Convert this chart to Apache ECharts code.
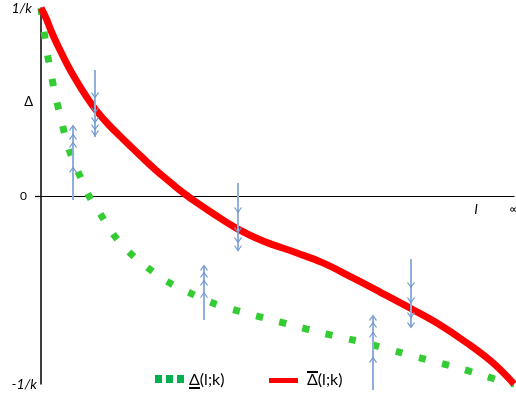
<!DOCTYPE html>
<html>
<head>
<meta charset="utf-8">
<script src="https://cdn.jsdelivr.net/npm/echarts@6/dist/echarts.min.js"></script>
<style>html,body{margin:0;padding:0;background:#fff}#c{width:516px;height:396px}</style>
</head>
<body>
<div id="c"></div>
<script>
// Upper bound curve (red)
const redX = [0, 1.06, 2.33, 3.81, 5.50, 7.40, 9.51, 11.63, 14.16, 17.55, 21.99, 24.10, 26.22, 28.33, 30.44, 32.56, 36.36, 41.65, 46.93, 54.12, 59.62, 65.96, 71.67, 78.01, 83.72, 90.06, 95.56, 100];
const redY = [1.0, 0.947, 0.867, 0.787, 0.702, 0.617, 0.532, 0.457, 0.383, 0.298, 0.191, 0.142, 0.096, 0.052, 0.010, -0.029, -0.093, -0.176, -0.239, -0.303, -0.356, -0.436, -0.511, -0.596, -0.676, -0.782, -0.888, -1.0];
// Lower bound curve (green dashed)
const greenX = [0, 0.63, 1.27, 2.11, 2.96, 4.02, 5.07, 6.34, 8.24, 10.15, 12.68, 15.22, 18.60, 22.62, 26.85, 31.92, 36.79, 42.49, 47.99, 53.70, 59.41, 65.12, 71.04, 76.32, 81.82, 87.53, 93.23, 98.73, 100];
const greenY = [1.0, 0.878, 0.766, 0.654, 0.543, 0.431, 0.324, 0.218, 0.106, 0.0, -0.101, -0.202, -0.298, -0.383, -0.457, -0.521, -0.574, -0.617, -0.654, -0.691, -0.729, -0.761, -0.798, -0.835, -0.872, -0.910, -0.952, -0.995, -1.0];
// Vertical arrows
const arrowX = [6.77, 11.42, 41.65, 34.46, 70.19, 78.22];
const arrowTop = [0.367, 0.670, 0.069, -0.372, -0.644, -0.335];
const arrowBottom = [-0.021, 0.314, -0.293, -0.660, -1.032, -0.697];
const arrowDir = ['up', 'down', 'down', 'up', 'up', 'down'];
const arrowHeads = [
  [0.362, 0.314, 0.271, 0.138],
  [0.537, 0.457, 0.404, 0.367, 0.335],
  [-0.074, -0.181, -0.234, -0.277],
  [-0.383, -0.420, -0.463, -0.527],
  [-0.649, -0.686, -0.739, -0.872],
  [-0.473, -0.553, -0.633, -0.686]
];
// Tick labels
const yTickValues = [-1, 0, 0.5, 1];
const yTickLabels = ['{i|-1/k}', '{z|0}', '{d|Δ}', '{j|1/k}'];
const xTickValues = [92, 100];
const xTickLabels = ['l', '∞'];
const legendNames = ['Δ(l;k)', 'Δ(l;k)'];

const zip = (a, b) => a.map((v, i) => [v, b[i]]);
const FONT = 'Lato, "Open Sans", sans-serif';
const UP = 'path://M0,8L5,0L10,8';
const DOWN = 'path://M0,0L5,8L10,0';

const arrowSeries = arrowX.map((x, k) => ({
  type: 'line',
  clip: false,
  silent: true,
  z: 5,
  symbol: arrowDir[k] === 'up' ? UP : DOWN,
  symbolSize: [7, 5],
  itemStyle: { color: 'rgba(0,0,0,0)', borderColor: '#7097cf', borderWidth: 1 },
  lineStyle: { color: '#8fb0dc', width: 2 },
  data: [{ value: [x, arrowTop[k]], symbol: 'none' }]
    .concat(arrowHeads[k].map(y => ({ value: [x, y] })))
    .concat([{ value: [x, arrowBottom[k]], symbol: 'none' }])
}));

const chart = echarts.init(document.getElementById('c'), null, { renderer: 'canvas' });
const legendGraphics = [
  { type: 'rect', shape: { x: 155, y: 375, width: 7, height: 8 }, style: { fill: '#00b050' } },
  { type: 'rect', shape: { x: 166, y: 375, width: 7, height: 8 }, style: { fill: '#00b050' } },
  { type: 'rect', shape: { x: 177, y: 375, width: 7, height: 8 }, style: { fill: '#00b050' } },
  { type: 'text', x: 189, y: 380, style: { text: legendNames[0], font: '16px ' + FONT, fill: '#000', textVerticalAlign: 'middle' } },
  { type: 'line', shape: { x1: 189, y1: 388, x2: 200, y2: 388 }, style: { stroke: '#000', lineWidth: 2 } },
  { type: 'rect', shape: { x: 269, y: 378, width: 29, height: 5 }, style: { fill: '#ff0000' } },
  { type: 'text', x: 307, y: 380, style: { text: legendNames[1], font: '16px ' + FONT, fill: '#000', textVerticalAlign: 'middle' } },
  { type: 'line', shape: { x1: 307, y1: 372, x2: 318, y2: 372 }, style: { stroke: '#000', lineWidth: 2 } }
];
chart.setOption({
  animation: false,
  backgroundColor: '#fff',
  grid: { left: 41, right: 2, top: 8, bottom: 12, containLabel: false, outerBoundsMode: 'none' },
  xAxis: {
    type: 'value', min: 0, max: 100,
    axisLine: { onZero: true, lineStyle: { color: '#000', width: 1.2 } },
    axisTick: { show: false },
    splitLine: { show: false },
    axisLabel: { show: false }
  },
  yAxis: {
    type: 'value', min: -1, max: 1,
    axisLine: { show: true, onZero: false, lineStyle: { color: '#000', width: 1.5 } },
    axisTick: { show: true, customValues: [0], length: 6, lineStyle: { color: '#000', width: 1.2 } },
    splitLine: { show: false },
    axisLabel: {
      customValues: yTickValues,
      margin: 4,
      formatter: v => yTickLabels[yTickValues.indexOf(v)] || '',
      rich: {
        i: { fontStyle: 'italic', fontSize: 14, fontFamily: FONT, color: '#000' },
        j: { fontStyle: 'italic', fontSize: 14, fontFamily: FONT, color: '#000', padding: [0, 5, 0, 0] },
        z: { fontSize: 12, fontFamily: FONT, color: '#000', padding: [0, 10, 0, 0] },
        d: { fontSize: 13, fontFamily: FONT, color: '#000', padding: [0, 4, 0, 0] }
      }
    }
  },
  series: [
    {
      name: 'lower', type: 'line', smooth: 0.3, symbol: 'none', z: 2,
      lineStyle: { color: '#33cc33', width: 7, type: [7, 17], cap: 'butt' },
      data: zip(greenX, greenY)
    },
    {
      name: 'upper', type: 'line', smooth: 0.4, symbol: 'none', z: 3,
      lineStyle: { color: '#ff0000', width: 7 },
      data: zip(redX, redY)
    }
  ].concat(arrowSeries),
  graphic: legendGraphics
});
// x-axis end labels placed through the axis scale
const xLabelGraphics = xTickValues.map((v, i) => {
  const p = chart.convertToPixel({ gridIndex: 0 }, [v, 0]);
  return {
    type: 'text', x: p[0], y: p[1] + 13,
    style: {
      text: xTickLabels[i],
      font: (i === 0 ? 'italic 14px ' : '12px ') + FONT,
      fill: '#000', textAlign: 'center', textVerticalAlign: 'middle'
    }
  };
});
chart.setOption({ graphic: legendGraphics.concat(xLabelGraphics) });
</script>
</body>
</html>
